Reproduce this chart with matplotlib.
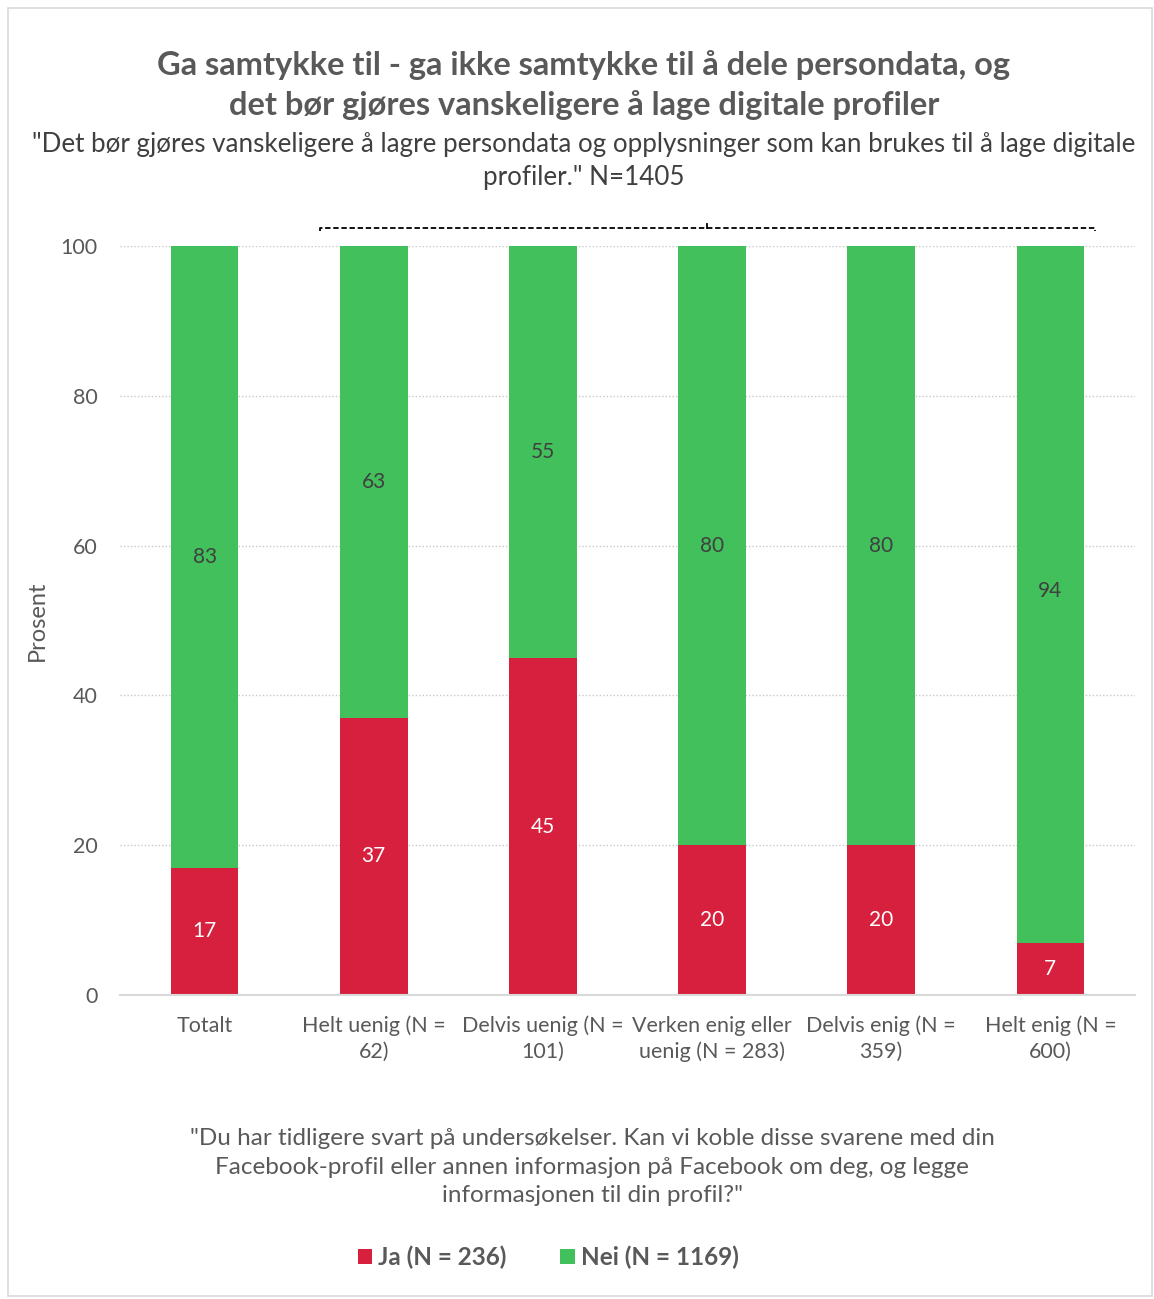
import numpy as np
import matplotlib.pyplot as plt
from matplotlib import rcParams
from matplotlib.patches import Rectangle

rcParams.update({
    'font.family': ['Lato', 'DejaVu Sans'],
})

categories = ['Totalt', 'Helt uenig (N =\n62)', 'Delvis uenig (N =\n101)',
              'Verken enig eller\nuenig (N = 283)', 'Delvis enig (N =\n359)',
              'Helt enig (N =\n600)']
ja = [17, 37, 45, 20, 20, 7]
nei = [83, 63, 55, 80, 80, 94]
series_names = ['Ja (N = 236)', 'Nei (N = 1169)']
yticks = [0, 20, 40, 60, 80, 100]

red = '#D6203D'
green = '#41C05B'
grey = '#595959'

fig = plt.figure(figsize=(11.54, 12.99), dpi=100)
ax = fig.add_axes([0.104, 0.234, 0.8795, 0.5766])

x = np.arange(len(categories))
w = 0.4
b1 = ax.bar(x, ja, w, color=red, label=series_names[0], zorder=3)
b2 = ax.bar(x, nei, w, bottom=ja, color=green, label=series_names[1], zorder=3)

for i in range(len(x)):
    ax.text(x[i], ja[i] / 2, str(ja[i]), ha='center', va='center',
            color='white', fontsize=15, zorder=4)
    ax.text(x[i], ja[i] + nei[i] / 2, str(nei[i]), ha='center', va='center',
            color='#404040', fontsize=15, zorder=4)

ax.set_xlim(-0.5, 5.5)
ax.set_ylim(0, 100)
ax.set_yticks(yticks)
ax.set_yticklabels([str(t) for t in yticks], fontsize=15.5, color=grey)
ax.set_xticks(x)
ax.set_xticklabels(categories, fontsize=15.5, color=grey, linespacing=1.35)
ax.tick_params(length=0)
ax.tick_params(axis='x', pad=15)
ax.tick_params(axis='y', pad=16)
ax.yaxis.grid(True, linestyle=(0, (1, 1.5)), color='#C8C8C8', linewidth=1, zorder=0)
for s in ['top', 'right', 'left']:
    ax.spines[s].set_visible(False)
ax.spines['bottom'].set_color('#D9D9D9')
ax.spines['bottom'].set_linewidth(1.5)
ax.spines['bottom'].set_zorder(5)
ax.set_ylabel('Prosent', fontsize=17, color=grey, labelpad=9)

# dashed bracket over the answer groups
bx0, bx1, by = 0.682, 5.264, 102.4
xm = (bx0 + bx1) / 2
ax.plot([bx0, bx0, bx1, bx1], [102.0, by, by, 102.0], color='black', lw=1.3,
        ls=(0, (3, 1.5)), clip_on=False)
ax.plot([xm, xm], [by, 103.0], color='black', lw=1.3, clip_on=False)

fig.text(0.506, 0.950, 'Ga samtykke til - ga ikke samtykke til å dele persondata, og',
         ha='center', va='center', fontsize=23.5, fontweight='bold', color=grey)
fig.text(0.506, 0.919, 'det bør gjøres vanskeligere å lage digitale profiler',
         ha='center', va='center', fontsize=23.5, fontweight='bold', color=grey)
fig.text(0.506, 0.876, '"Det bør gjøres vanskeligere å lagre persondata og opplysninger som kan brukes til å lage digitale\nprofiler." N=1405',
         ha='center', va='center', fontsize=18.7, color='#404040', linespacing=1.36)

fig.text(0.513, 0.1015, '"Du har tidligere svart på undersøkelser. Kan vi koble disse svarene med din\nFacebook-profil eller annen informasjon på Facebook om deg, og legge\ninformasjonen til din profil?"',
         ha='center', va='center', fontsize=17.5, color=grey, linespacing=1.45)

leg = fig.legend(handles=[b1, b2], labels=series_names, loc='center',
                 bbox_to_anchor=(0.475, 0.032), ncol=2, frameon=False,
                 handlelength=0.6, handleheight=0.6, handletextpad=0.25,
                 columnspacing=2.2, prop={'size': 17.5, 'weight': 'bold'})
for t in leg.get_texts():
    t.set_color(grey)

fig.patches.append(Rectangle((0.007, 0.002), 0.991, 0.992, transform=fig.transFigure,
                             fill=False, edgecolor='#D9D9D9', linewidth=1.2))

fig.savefig('out.png', dpi=100)
